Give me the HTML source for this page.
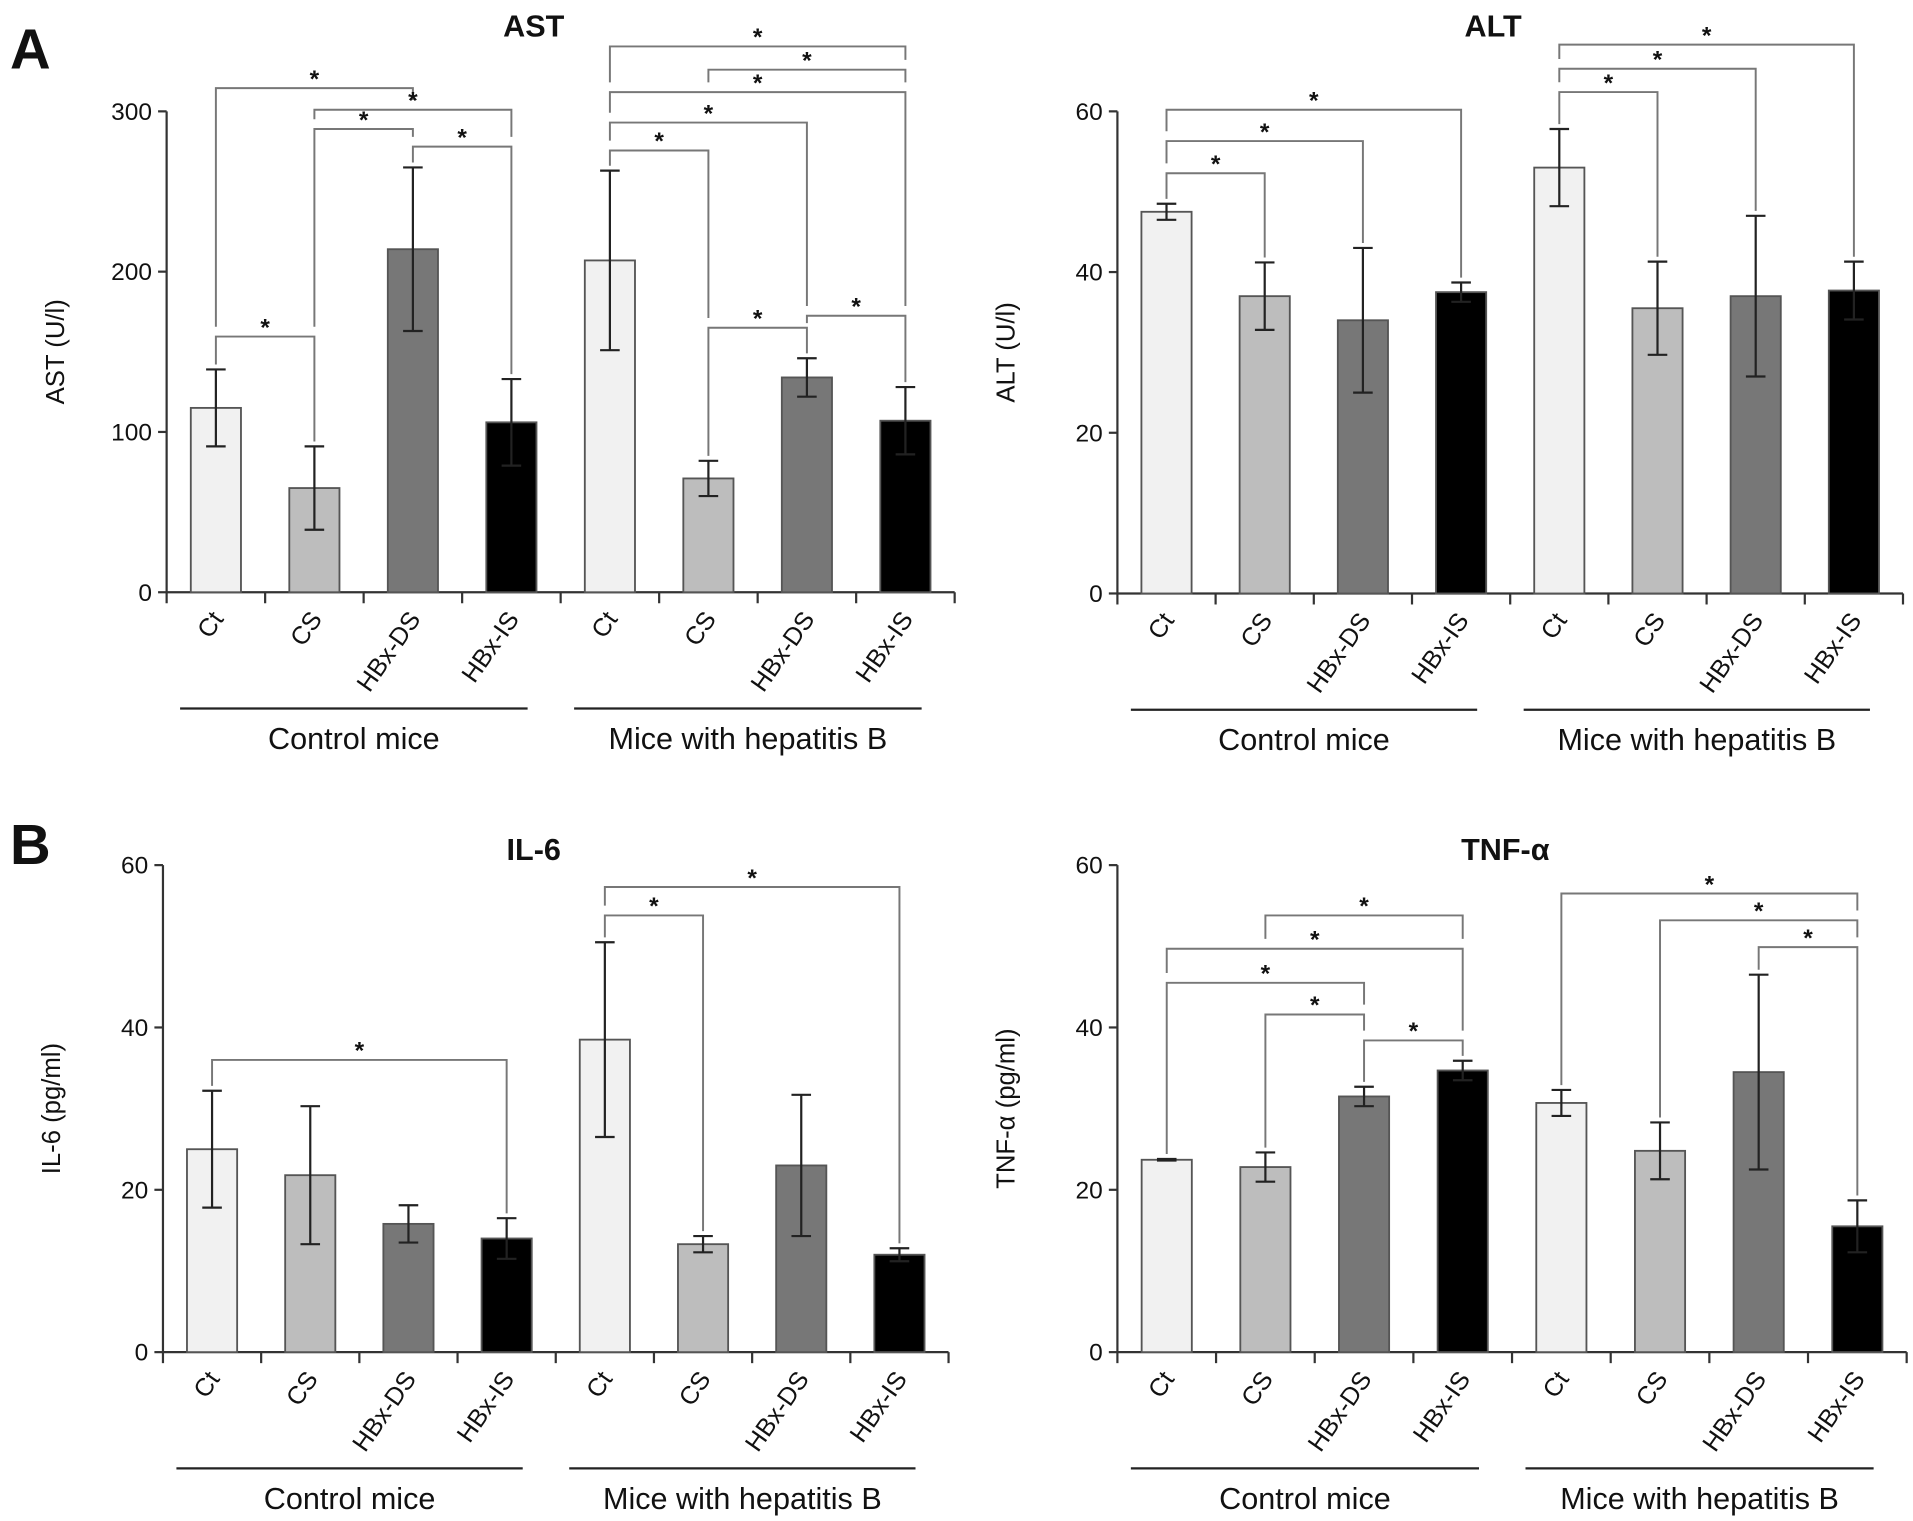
<!DOCTYPE html>
<html><head><meta charset="utf-8"><style>
html,body{margin:0;padding:0;background:#fff}
svg{display:block}
text{font-family:"Liberation Sans",Arial,sans-serif;fill:#111}
</style></head><body>
<svg id="fig" width="1913" height="1521" viewBox="0 0 1563 1243" xmlns="http://www.w3.org/2000/svg">
<text x="8" y="56" font-size="46" font-weight="bold">A</text>
<text x="8" y="706" font-size="46" font-weight="bold">B</text>
</svg>
<script>
const categories = ["Ct","CS","HBx-DS","HBx-IS","Ct","CS","HBx-DS","HBx-IS"];
const groupNames = ["Control mice","Mice with hepatitis B"];
const astValues = [115,65,214,106,207,71,134,107];
const astErrors = [24,26,51,27,56,11,12,21];
const astTicks = [0,100,200,300];
const astBrackets = [[0,1,159.5],[0,2,314.5],[1,2,289],[1,3,301],[2,3,278],[4,5,275.6],[4,6,293],[4,7,312],[5,7,326],[4,7,340.5],[5,6,165],[6,7,172.5]];
const altValues = [47.5,37,34,37.5,53,35.5,37,37.7];
const altErrors = [1,4.2,9,1.2,4.8,5.8,10,3.6];
const altTicks = [0,20,40,60];
const altBrackets = [[0,1,52.3],[0,2,56.3],[0,3,60.2],[4,5,62.4],[4,6,65.3],[4,7,68.3]];
const il6Values = [25,21.8,15.8,14,38.5,13.3,23,12];
const il6Errors = [7.2,8.5,2.3,2.5,12,1,8.7,0.8];
const il6Ticks = [0,20,40,60];
const il6Brackets = [[0,3,36],[4,5,53.8],[4,7,57.3]];
const tnfValues = [23.7,22.8,31.5,34.7,30.7,24.8,34.5,15.5];
const tnfErrors = [0.1,1.8,1.2,1.2,1.6,3.5,12,3.2];
const tnfTicks = [0,20,40,60];
const tnfBrackets = [[1,3,53.8],[0,3,49.7],[0,2,45.5],[1,2,41.6],[2,3,38.4],[4,7,56.5],[5,7,53.2],[6,7,49.9]];

const fills = ["#f1f1f1","#bdbdbd","#777777","#000000"];
const NS = "http://www.w3.org/2000/svg";
const svg = document.getElementById("fig");
function mk(tag, attrs, parent){
  const e = document.createElementNS(NS, tag);
  for (const k in attrs) e.setAttribute(k, attrs[k]);
  (parent||svg).appendChild(e);
  return e;
}
function panel(o){
  const g = mk("g", {});
  
  
  const yScale = v => o.y0 - (v / o.max) * (o.y0 - o.yTop);
  const xStep = (o.xEnd - o.x0) / 8;
  const xScale = i => o.x0 + xStep * (i + 0.5);
  const ax = mk("path", {d:`M${o.x0} ${o.yTop}V${o.y0}H${o.xEnd}`, stroke:"#333", "stroke-width":1.8, fill:"none"}, g);
  
  
  o.ticks.forEach(t => {
    const y = yScale(t);
    mk("line", {x1:o.x0-7, x2:o.x0, y1:y, y2:y, stroke:"#333","stroke-width":1.8}, g);
    const tx = mk("text", {x:o.x0-12, y:y+7, "font-size":20, "text-anchor":"end"}, g);
    tx.textContent = t;
    
    
  });
  for (let i = 0; i <= 8; i++) {
    const x = o.x0 + xStep * i;
    mk("line", {x1:x, x2:x, y1:o.y0, y2:o.y0+9, stroke:"#333","stroke-width":1.8}, g);
  }
  const yt = mk("text", {x:0, y:0, "font-size":21, "text-anchor":"middle", transform:`translate(${o.x0-84},${(o.y0+o.yTop)/2}) rotate(-90)`}, g);
  yt.textContent = o.ytitle;
  
  
  const tt = mk("text", {x:o.titleX, y:o.titleY, "font-size":25, "font-weight":"bold", "text-anchor":"middle"}, g);
  tt.textContent = o.title;
  
  
  const errTop = [];
  o.values.forEach((v, i) => {
    const x = xScale(i), y = yScale(v), w = 41;
    const r = mk("rect", {x:x-w/2, y:y, width:w, height:o.y0-y, fill:fills[i%4], stroke:"#555", "stroke-width":1.5}, g);
    
    
    const hi = yScale(v + o.errors[i]), lo = yScale(v - o.errors[i]);
    errTop[i] = hi;
    const eb = mk("path", {d:`M${x} ${hi}V${lo}M${x-8} ${hi}H${x+8}M${x-8} ${lo}H${x+8}`, stroke:"#222", "stroke-width":1.8, fill:"none"}, g);
    
    
    const lb = mk("text", {x:0, y:0, "font-size":20.5, "text-anchor":"end", transform:`translate(${x+7},${o.y0+22}) rotate(-55)`}, g);
    lb.textContent = categories[i];
    
    
  });
  groupNames.forEach((n, k) => {
    const xa = o.x0 + xStep*4*k + 11, xb = o.x0 + xStep*4*(k+1) - 27;
    mk("line", {x1:xa, x2:xb, y1:o.y0+95, y2:o.y0+95, stroke:"#222", "stroke-width":1.8}, g);
    const gt = mk("text", {x:(xa+xb)/2, y:o.y0+128, "font-size":25, "text-anchor":"middle"}, g);
    gt.textContent = n;
    
    
  });
  o.brackets.forEach(b => {
    const [a, c, v] = b;
    const y = yScale(v);
    const legEnd = idx => {
      let bottom = errTop[idx] - 4;
      o.brackets.forEach(b2 => {
        const y2 = yScale(b2[2]);
        if (b2 !== b && y2 > y && b2[0] <= idx && b2[1] >= idx && y2 - 8 < bottom) bottom = y2 - 8;
      });
      return Math.max(bottom, y + 6);
    };
    const xa = xScale(a), xc = xScale(c);
    const p = mk("path", {d:`M${xa} ${legEnd(a)}V${y}H${xc}V${legEnd(c)}`, stroke:"#777", "stroke-width":1.6, fill:"none"}, g);
    
    
    const s = mk("text", {x:(xa+xc)/2, y:y-1, "font-size":20, "font-weight":"bold", "text-anchor":"middle"}, g);
    s.textContent = "*";
    
    
  });
}
panel({name:"ast", title:"AST", ytitle:"AST (U/l)", titleX:436, titleY:30, x0:136, xEnd:780, y0:484, yTop:91, max:300, ticks:astTicks, values:astValues, errors:astErrors, brackets:astBrackets});
panel({name:"alt", title:"ALT", ytitle:"ALT (U/l)", titleX:1220, titleY:30, x0:913, xEnd:1555, y0:485, yTop:91, max:60, ticks:altTicks, values:altValues, errors:altErrors, brackets:altBrackets});
panel({name:"il6", title:"IL-6", ytitle:"IL-6 (pg/ml)", titleX:436, titleY:703, x0:133, xEnd:775, y0:1105, yTop:707, max:60, ticks:il6Ticks, values:il6Values, errors:il6Errors, brackets:il6Brackets});
panel({name:"tnf", title:"TNF-\u03b1", ytitle:"TNF-\u03b1 (pg/ml)", titleX:1230, titleY:703, x0:913, xEnd:1558, y0:1105, yTop:707, max:60, ticks:tnfTicks, values:tnfValues, errors:tnfErrors, brackets:tnfBrackets});
</script>
</body></html>
